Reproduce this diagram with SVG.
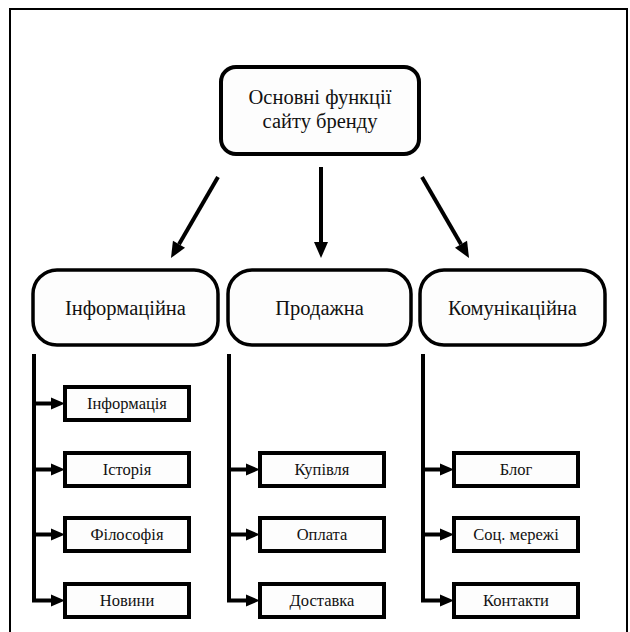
<svg xmlns="http://www.w3.org/2000/svg" width="630" height="632" viewBox="0 0 630 632">
<style>
.frame{fill:#fff;stroke:#000;stroke-width:2}
.top{fill:#fdfdfd;stroke:#000;stroke-width:4}
.mid{fill:#fdfdfd;stroke:#000;stroke-width:3.5}
.box{fill:#fdfdfd;stroke:#000;stroke-width:4}
.t{fill:#111;text-anchor:middle}
.big{font-size:20.5px}
.small{font-size:16.5px}
.ln{stroke:#000;stroke-width:4;fill:none}
</style>
<defs>
<marker id="ah" markerUnits="userSpaceOnUse" markerWidth="16" markerHeight="14" refX="0" refY="7" orient="auto" overflow="visible">
<path d="M0,0 L16,7 L0,14 z" fill="#000"/>
</marker>
<marker id="as" markerUnits="userSpaceOnUse" markerWidth="14" markerHeight="12" refX="0" refY="6" orient="auto" overflow="visible">
<path d="M0,0 L14,6 L0,12 z" fill="#000"/>
</marker>
</defs>
<rect class="frame" x="10" y="9" width="617" height="640"/>
<g id="connectors">
<line class="ln" x1="218" y1="177" x2="179" y2="244.2" marker-end="url(#ah)"/>
<line class="ln" x1="321" y1="167" x2="321" y2="242" marker-end="url(#ah)"/>
<line class="ln" x1="422" y1="177" x2="461" y2="244.2" marker-end="url(#ah)"/>
<path class="ln" d="M34,354 V600.5 H51" marker-end="url(#as)"/>
<line class="ln" x1="34" y1="403.5" x2="51" y2="403.5" marker-end="url(#as)"/>
<line class="ln" x1="34" y1="469.5" x2="51" y2="469.5" marker-end="url(#as)"/>
<line class="ln" x1="34" y1="534.5" x2="51" y2="534.5" marker-end="url(#as)"/>
<path class="ln" d="M229,354 V600.5 H246" marker-end="url(#as)"/>
<line class="ln" x1="229" y1="469.5" x2="246" y2="469.5" marker-end="url(#as)"/>
<line class="ln" x1="229" y1="534.5" x2="246" y2="534.5" marker-end="url(#as)"/>
<path class="ln" d="M423,354 V600.5 H440" marker-end="url(#as)"/>
<line class="ln" x1="423" y1="469.5" x2="440" y2="469.5" marker-end="url(#as)"/>
<line class="ln" x1="423" y1="534.5" x2="440" y2="534.5" marker-end="url(#as)"/>
</g>
<g font-family="'Liberation Serif', 'Times New Roman', serif">
<g id="root">
<rect class="top" x="221" y="67" width="198" height="87" rx="15"/>
<text class="t big" x="320" y="104">Основні функції</text>
<text class="t big" x="320" y="128">сайту бренду</text>
</g>
<g id="info">
<rect class="mid" x="33" y="270" width="185" height="75" rx="24"/>
<text class="t big" x="125.5" y="315">Інформаційна</text>
</g>
<g id="sales">
<rect class="mid" x="228" y="270" width="183" height="75" rx="24"/>
<text class="t big" x="319.5" y="315">Продажна</text>
</g>
<g id="comm">
<rect class="mid" x="420" y="270" width="185" height="75" rx="24"/>
<text class="t big" x="512.5" y="315">Комунікаційна</text>
</g>
<g id="b-info"><rect class="box" x="65" y="387" width="124" height="33"/><text class="t small" x="127" y="409">Інформація</text></g>
<g id="b-hist"><rect class="box" x="65" y="453" width="124" height="33"/><text class="t small" x="127" y="475">Історія</text></g>
<g id="b-phil"><rect class="box" x="65" y="518" width="124" height="33"/><text class="t small" x="127" y="540">Філософія</text></g>
<g id="b-news"><rect class="box" x="65" y="584" width="124" height="33"/><text class="t small" x="127" y="606">Новини</text></g>
<g id="b-buy"><rect class="box" x="260" y="453" width="124" height="33"/><text class="t small" x="322" y="475">Купівля</text></g>
<g id="b-pay"><rect class="box" x="260" y="518" width="124" height="33"/><text class="t small" x="322" y="540">Оплата</text></g>
<g id="b-deliv"><rect class="box" x="260" y="584" width="124" height="33"/><text class="t small" x="322" y="606">Доставка</text></g>
<g id="b-blog"><rect class="box" x="454" y="453" width="124" height="33"/><text class="t small" x="516" y="475">Блог</text></g>
<g id="b-soc"><rect class="box" x="454" y="518" width="124" height="33"/><text class="t small" x="516" y="540">Соц. мережі</text></g>
<g id="b-cont"><rect class="box" x="454" y="584" width="124" height="33"/><text class="t small" x="516" y="606">Контакти</text></g>
</g>
</svg>
